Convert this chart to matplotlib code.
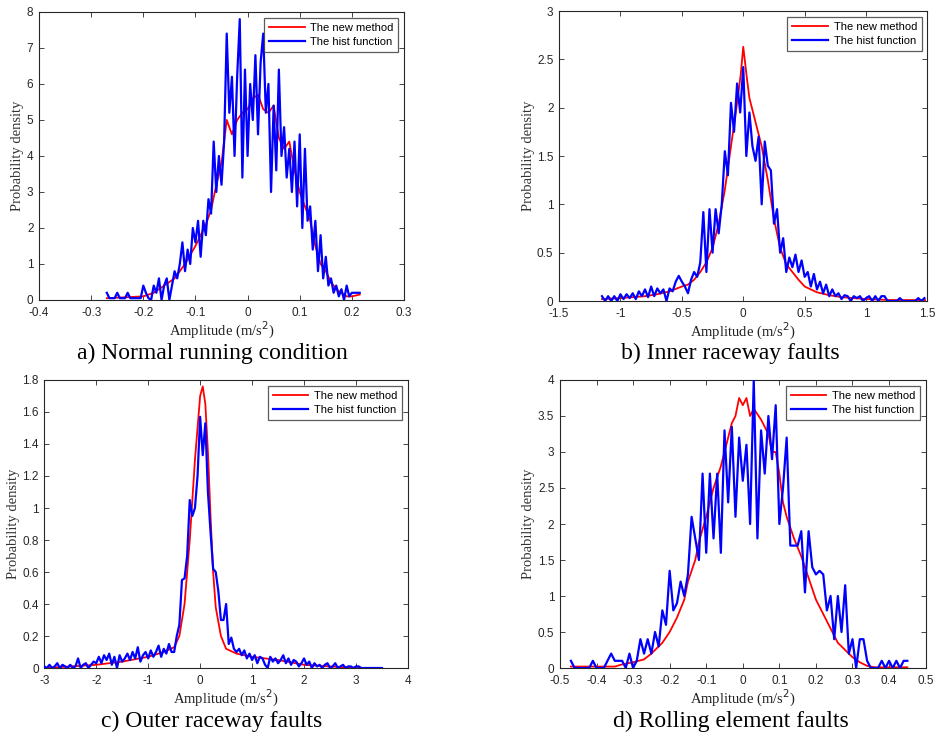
import numpy as np
import matplotlib.pyplot as plt

# ---- data -------------------------------------------------------------------
# a) normal running condition
a_hist_x = np.linspace(-0.27, 0.215, 98)
a_hist_y = [0.2, 0.05, 0.05, 0.05, 0.2, 0.05, 0.05, 0.05, 0.2, 0.05,
            0.05, 0.05, 0.05, 0.05, 0.4, 0.2, 0.05, 0.0, 0.4, 0.2,
            0.6, 0.0, 0.4, 0.6, 0.0, 0.4, 0.8, 0.6, 1.0, 1.6,
            0.8, 1.4, 1.0, 2.0, 1.6, 2.2, 1.2, 2.2, 1.8, 2.8,
            2.4, 4.4, 3.0, 4.0, 3.2, 4.4, 7.4, 5.2, 6.2, 4.0,
            6.2, 7.8, 3.4, 6.4, 4.0, 6.0, 5.0, 6.8, 4.6, 6.6,
            7.4, 5.2, 6.0, 3.0, 5.4, 3.6, 6.4, 4.0, 4.8, 3.4,
            4.2, 3.0, 4.4, 2.6, 4.6, 2.0, 4.2, 2.2, 2.6, 1.4,
            2.2, 0.8, 1.8, 0.6, 1.2, 0.4, 0.6, 0.2, 0.4, 0.1,
            0.3, 0.0, 0.4, 0.1, 0.2, 0.2, 0.2, 0.2]
a_new_x = [-0.27, -0.2, -0.18, -0.16, -0.14, -0.12, -0.10, -0.09, -0.08, -0.07,
           -0.06, -0.05, -0.04, -0.03, -0.02, -0.01, 0.0, 0.01, 0.02, 0.03,
           0.04, 0.05, 0.06, 0.07, 0.08, 0.09, 0.10, 0.11, 0.12, 0.13,
           0.14, 0.15, 0.16, 0.17, 0.18, 0.19, 0.20, 0.215]
a_new_y = [0.05, 0.1, 0.2, 0.4, 0.6, 1.0, 1.5, 1.8, 2.1, 2.5,
           3.2, 3.8, 5.0, 4.6, 5.0, 5.2, 5.3, 5.6, 5.7, 5.3,
           5.2, 5.4, 4.5, 4.2, 4.4, 3.6, 3.0, 2.6, 2.2, 1.5,
           1.0, 0.8, 0.5, 0.3, 0.2, 0.1, 0.1, 0.15]

# b) inner raceway faults
b_hist_x = np.linspace(-1.15, 1.475, 106)
b_hist_y = [0.05, 0.0, 0.05, 0.0, 0.05, 0.0, 0.07, 0.02, 0.07, 0.03,
            0.08, 0.02, 0.1, 0.05, 0.12, 0.04, 0.15, 0.05, 0.13, 0.08,
            0.12, 0.0, 0.13, 0.1, 0.2, 0.26, 0.2, 0.15, 0.08, 0.22,
            0.3, 0.25, 0.4, 0.92, 0.3, 0.95, 0.5, 0.95, 0.7, 1.0,
            1.55, 1.3, 2.05, 1.75, 2.25, 1.95, 2.42, 1.5, 1.95, 1.6,
            1.45, 1.7, 1.0, 1.65, 1.4, 1.35, 0.8, 0.95, 0.5, 0.65,
            0.3, 0.45, 0.35, 0.48, 0.3, 0.42, 0.25, 0.3, 0.15, 0.28,
            0.12, 0.2, 0.08, 0.17, 0.05, 0.12, 0.05, 0.08, 0.02, 0.06,
            0.05, 0.0, 0.05, 0.03, 0.05, 0.0, 0.03, 0.05, 0.0, 0.05,
            0.0, 0.05, 0.05, 0.0, 0.0, 0.0, 0.0, 0.03, 0.0, 0.0,
            0.0, 0.0, 0.0, 0.03, 0.0, 0.03]
b_new_x = [-1.15, -1.0, -0.8, -0.7, -0.6, -0.5, -0.45, -0.4, -0.35, -0.3,
           -0.25, -0.2, -0.15, -0.1, -0.05, -0.02, 0.0, 0.03, 0.05, 0.1,
           0.15, 0.2, 0.25, 0.3, 0.35, 0.4, 0.45, 0.5, 0.6, 0.7,
           0.8, 1.0, 1.2, 1.48]
b_new_y = [0.02, 0.03, 0.05, 0.07, 0.1, 0.15, 0.17, 0.22, 0.3, 0.4,
           0.55, 0.8, 1.15, 1.6, 2.05, 2.35, 2.63, 2.3, 2.1, 1.85,
           1.6, 1.25, 0.85, 0.55, 0.38, 0.3, 0.22, 0.15, 0.09, 0.06,
           0.04, 0.02, 0.01, 0.01]

# c) outer raceway faults
c_hist_x = np.linspace(-3.0, 3.5, 131)
c_hist_y = [0.01, 0.0, 0.02, 0.0, 0.01, 0.03, 0.0, 0.02, 0.01, 0.0,
            0.02, 0.0, 0.01, 0.06, 0.0, 0.02, 0.03, 0.0, 0.02, 0.04,
            0.03, 0.07, 0.03, 0.08, 0.05, 0.09, 0.02, 0.07, 0.0, 0.08,
            0.04, 0.06, 0.09, 0.05, 0.1, 0.06, 0.13, 0.04, 0.08, 0.1,
            0.06, 0.11, 0.07, 0.1, 0.14, 0.07, 0.12, 0.09, 0.15, 0.1,
            0.1, 0.2, 0.27, 0.55, 0.56, 0.7, 1.05, 0.95, 1.0, 1.2,
            1.57, 1.33, 1.53, 1.1, 0.85, 0.62, 0.6, 0.48, 0.3, 0.3,
            0.4, 0.15, 0.19, 0.12, 0.1, 0.12, 0.08, 0.11, 0.06, 0.09,
            0.05, 0.08, 0.03, 0.07, 0.06, 0.02, 0.0, 0.07, 0.04, 0.06,
            0.03, 0.05, 0.08, 0.03, 0.06, 0.02, 0.05, 0.04, 0.01, 0.03,
            0.06, 0.02, 0.04, 0.0, 0.03, 0.01, 0.02, 0.0, 0.02, 0.03,
            0.0, 0.01, 0.03, 0.0, 0.01, 0.02, 0.0, 0.01, 0.01, 0.0,
            0.01, 0.01, 0.0, 0.0, 0.0, 0.0, 0.0, 0.0, 0.0, 0.0, 0.0]
c_new_x = [-3.0, -2.0, -1.5, -1.0, -0.7, -0.5, -0.4, -0.3, -0.2, -0.1,
           0.0, 0.05, 0.1, 0.15, 0.2, 0.25, 0.3, 0.4, 0.5, 0.7,
           1.0, 1.5, 2.0, 2.5, 3.0, 3.14]
c_new_y = [0.0, 0.02, 0.04, 0.07, 0.1, 0.13, 0.2, 0.4, 0.8, 1.3,
           1.7, 1.76, 1.65, 1.35, 0.95, 0.6, 0.38, 0.2, 0.12, 0.09,
           0.07, 0.05, 0.02, 0.01, 0.0, 0.0]

# d) rolling element faults
d_hist_x = np.linspace(-0.47, 0.45, 93)
d_hist_y = [0.1, 0.0, 0.0, 0.0, 0.0, 0.0, 0.1, 0.0, 0.0, 0.0,
            0.1, 0.2, 0.1, 0.1, 0.1, 0.0, 0.2, 0.0, 0.1, 0.4,
            0.2, 0.4, 0.2, 0.5, 0.3, 0.8, 0.6, 1.35, 0.8, 0.9,
            1.2, 1.0, 1.3, 2.1, 1.8, 1.5, 2.7, 1.6, 2.7, 1.8,
            2.7, 1.6, 3.3, 2.3, 3.35, 2.1, 3.2, 2.6, 3.1, 2.0,
            4.0, 1.8, 3.3, 2.7, 3.5, 2.9, 3.65, 2.0, 2.5, 3.2,
            1.7, 1.7, 1.7, 1.9, 1.05, 1.9, 1.4, 1.3, 1.35, 1.3,
            0.8, 1.0, 0.4, 1.0, 0.5, 1.15, 0.2, 0.4, 0.0, 0.4,
            0.4, 0.1, 0.0, 0.0, 0.0, 0.1, 0.0, 0.1, 0.0, 0.1,
            0.0, 0.1, 0.1]
d_new_x = [-0.47, -0.35, -0.33, -0.3, -0.27, -0.25, -0.22, -0.2, -0.18, -0.16,
           -0.15, -0.14, -0.13, -0.12, -0.1, -0.08, -0.06, -0.05, -0.04, -0.03,
           -0.02, -0.01, 0.0, 0.01, 0.02, 0.03, 0.05, 0.06, 0.07, 0.08,
           0.09, 0.1, 0.11, 0.12, 0.14, 0.16, 0.18, 0.2, 0.22, 0.24,
           0.26, 0.28, 0.3, 0.32, 0.34, 0.36, 0.45]
d_new_y = [0.02, 0.02, 0.05, 0.08, 0.12, 0.2, 0.35, 0.5, 0.7, 0.95,
           1.2, 1.35, 1.5, 1.75, 2.1, 2.5, 2.8, 3.0, 3.2, 3.4,
           3.5, 3.75, 3.65, 3.75, 3.5, 3.6, 3.45, 3.35, 3.25, 3.0,
           3.0, 2.7, 2.3, 2.1, 1.8, 1.55, 1.25, 0.95, 0.75, 0.55,
           0.35, 0.25, 0.15, 0.08, 0.03, 0.01, 0.01]

captions = ["a) Normal running condition", "b) Inner raceway faults",
            "c) Outer raceway faults", "d) Rolling element faults"]

# ---- figure ------------------------------------------------------------------
fig = plt.figure(figsize=(9.4, 7.34), dpi=100, facecolor="white")

SANS = "Liberation Sans"
SERIF = "Liberation Serif"
EDGE = "#262626"

panels = [
    # (axes rect, new x, new y, hist x, hist y, xlim, xticks, ylim, yticks,
    #  caption pos, ylabel x in axes coords)
    ([0.0415, 0.5913, 0.3883, 0.3924], a_new_x, a_new_y, a_hist_x, a_hist_y,
     (-0.4, 0.3), np.arange(-0.4, 0.31, 0.1), (0, 8), np.arange(0, 9, 1),
     (0.226, 0.519), -0.040),
    ([0.5947, 0.5899, 0.3920, 0.3951], b_new_x, b_new_y, b_hist_x, b_hist_y,
     (-1.5, 1.5), np.arange(-1.5, 1.51, 0.5), (0, 3), np.arange(0, 3.01, 0.5),
     (0.777, 0.519), -0.065),
    ([0.0471, 0.0899, 0.3869, 0.3924], c_new_x, c_new_y, c_hist_x, c_hist_y,
     (-3, 4), np.arange(-3, 5, 1), (0, 1.8), np.arange(0, 1.81, 0.2),
     (0.225, 0.0165), -0.068),
    ([0.5957, 0.0899, 0.3890, 0.3924], d_new_x, d_new_y, d_hist_x, d_hist_y,
     (-0.5, 0.5), np.arange(-0.5, 0.51, 0.1), (0, 4), np.arange(0, 4.01, 0.5),
     (0.777, 0.0165), -0.068),
]


def fmt(v):
    s = f"{v:.1f}".rstrip("0").rstrip(".")
    if s == "-0":
        s = "0"
    return s


for (rect, nx, ny, hx, hy, xl, xt, yl, yt, cap, ylx), caption in zip(panels, captions):
    ax = fig.add_axes(rect)
    ax.plot(nx, ny, color="#ff0000", lw=1.3, label="The new method", zorder=2)
    ax.plot(hx, hy, color="#0000ff", lw=1.6, label="The hist function", zorder=3)

    ax.set_xlim(*xl)
    ax.set_ylim(*yl)
    ax.set_xticks(xt)
    ax.set_yticks(yt)
    ax.set_xticklabels([fmt(v) for v in xt], fontfamily=SANS, fontsize=8.5, color=EDGE)
    ax.set_yticklabels([fmt(v) for v in yt], fontfamily=SANS, fontsize=8.5, color=EDGE)
    ax.tick_params(direction="in", length=3.5, width=0.6, top=True, right=True,
                   colors=EDGE)
    ax.tick_params(axis="x", pad=5)
    ax.tick_params(axis="y", pad=4)
    for sp in ax.spines.values():
        sp.set_linewidth(0.8)
        sp.set_edgecolor(EDGE)

    ax.set_ylabel("Probability density", fontfamily=SERIF, fontsize=10.5,
                  color="#333333")
    ax.yaxis.set_label_coords(ylx, 0.5)
    ax.set_xlabel("Amplitude (m/s$^2$)", fontfamily=SERIF, fontsize=10.5,
                  color="#222222", va="center")
    ax.xaxis.set_label_coords(0.5, -0.105)

    leg = ax.legend(loc="upper right", prop={"family": SANS, "size": 8},
                    frameon=True, fancybox=False, borderaxespad=0.5,
                    handlelength=3.2, handletextpad=0.5, borderpad=0.45,
                    labelspacing=0.4)
    leg.get_frame().set_edgecolor("#333333")
    leg.get_frame().set_linewidth(0.9)

    fig.text(cap[0], cap[1], caption, ha="center", va="center",
             fontfamily=SERIF, fontsize=17, color="black")

fig.savefig("out.png", dpi=100, facecolor="white")
